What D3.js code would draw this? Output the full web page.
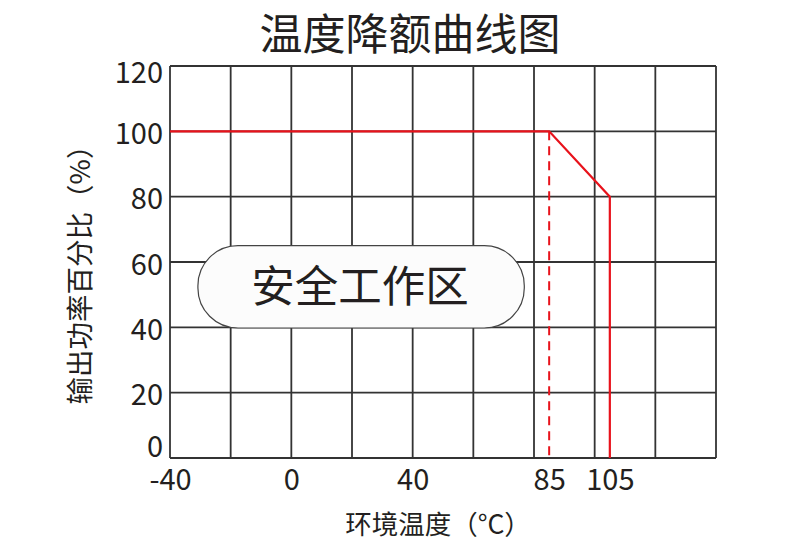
<!DOCTYPE html>
<html><head><meta charset="utf-8">
<script src="https://cdn.jsdelivr.net/npm/d3@7"></script>
<style>body{margin:0;background:#fff;} text{font-family:"Noto Sans CJK SC","Noto Sans",sans-serif;fill:#231f20;}</style>
</head><body>
<svg id="c" width="790" height="558"></svg>
<script>
const title = "温度降额曲线图";
const xLabel = "环境温度（°C）";
const yLabel = "输出功率百分比（%）";
const zoneLabel = "安全工作区";
const xGrid = [-40, -20, 0, 20, 40, 60, 80, 100, 120, 140];
const yGrid = [0, 20, 40, 60, 80, 100, 120];
const xTickLabels = [-40, 0, 40, 85, 105];
const yTickLabels = [0, 20, 40, 60, 80, 100, 120];
const deratingTemp = [-40, 85, 105, 105];
const deratingPower = [100, 100, 80, 0];
const dashedTemp = [85, 85];
const dashedPower = [100, 0];

const svg = d3.select("#c");
const x = d3.scaleLinear().domain([-40, 140]).range([170, 716]);
const y = d3.scaleLinear().domain([0, 120]).range([458, 66]);
const grid = "#333";
const FONT = '"Noto Sans CJK SC","Noto Sans",sans-serif';

// grid
svg.append("g").selectAll("line").data(xGrid).join("line")
  .attr("x1", d => x(d)).attr("x2", d => x(d)).attr("y1", y(0)).attr("y2", y(120))
  .attr("stroke", grid).attr("stroke-width", 1.8);
svg.append("g").selectAll("line").data(yGrid).join("line")
  .attr("y1", d => y(d)).attr("y2", d => y(d)).attr("x1", x(-40)).attr("x2", x(140))
  .attr("stroke", grid).attr("stroke-width", 1.8);

// zone box
const bx0 = x(-30.8), bx1 = x(76.8), by0 = y(65), by1 = y(39.8);
svg.append("rect").attr("x", bx0).attr("y", by0).attr("width", bx1 - bx0).attr("height", by1 - by0)
  .attr("rx", 40).attr("ry", 40).attr("fill", "#fcfcfc").attr("stroke", "#444").attr("stroke-width", 1.2);
svg.append("text").attr("x", (bx0 + bx1) / 2 - 1).attr("y", (by0 + by1) / 2 + 15)
  .attr("text-anchor", "middle").attr("font-size", 43.5).text(zoneLabel);

// dashed line
svg.append("path").datum(dashedTemp.map((t, i) => [t, dashedPower[i]]))
  .attr("d", d3.line().x(d => x(d[0])).y(d => y(d[1])))
  .attr("fill", "none").attr("stroke", "#e8121b").attr("stroke-width", 2).attr("stroke-dasharray", "9,6");

// derating curve
svg.append("path").datum(deratingTemp.map((t, i) => [t, deratingPower[i]]))
  .attr("d", d3.line().x(d => x(d[0])).y(d => y(d[1])))
  .attr("fill", "none").attr("stroke", "#e8121b").attr("stroke-width", 2.2);

// axes labels via d3 axes
const xAxis = d3.axisBottom(x).tickValues(xTickLabels).tickSize(0).tickPadding(11).tickFormat(d => String(d));
const gx = svg.append("g").attr("transform", `translate(0,${y(0)})`).call(xAxis);
gx.select(".domain").remove();
gx.selectAll("text").attr("font-size", 29).attr("fill", "#231f20").attr("font-family", FONT);

const yShift = d => d === 0 ? -11 : d === 120 ? 7 : 3;
const yAxis = d3.axisLeft(y).tickValues(yTickLabels).tickSize(0).tickPadding(7).tickFormat(d => String(d));
const gy = svg.append("g").attr("transform", `translate(${x(-40)},0)`).call(yAxis);
gy.select(".domain").remove();
gy.selectAll(".tick text").attr("font-size", 29).attr("fill", "#231f20").attr("font-family", FONT)
  .attr("transform", d => `translate(0,${yShift(d)})`);

// titles
svg.append("text").attr("x", 410).attr("y", 50).attr("text-anchor", "middle").attr("font-size", 43).text(title);
svg.append("text").attr("x", 438).attr("y", 534).attr("text-anchor", "middle").attr("font-size", 26.5).text(xLabel);
svg.append("text").attr("transform", "translate(90,268) rotate(-90)").attr("text-anchor", "middle").attr("font-size", 27.5).text(yLabel);
</script>
</body></html>
